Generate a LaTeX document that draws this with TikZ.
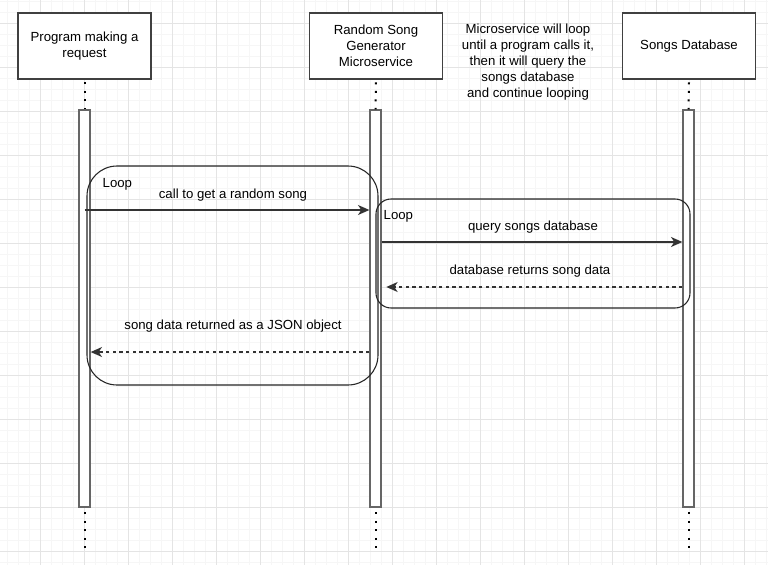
\documentclass[tikz,border=0pt]{standalone}
\usepackage{fontspec}
\setmainfont{Liberation Sans}
\usepackage{tikz}
\usetikzlibrary{arrows.meta,positioning}

\definecolor{minorgrid}{HTML}{F6F6F6}
\definecolor{majorgrid}{HTML}{E4E4E4}

\begin{document}
\begin{tikzpicture}[x=0.75pt,y=-0.75pt,
  every node/.style={font=\fontsize{9.9}{12}\selectfont},
  actor/.style={draw=black!75,line width=0.9pt,fill=white,minimum width=99.75pt,
    minimum height=49.5pt,align=center,inner sep=2pt},
  actbar/.style={draw=black!60,line width=1pt,fill=white,minimum width=8.25pt,
    minimum height=297.75pt,inner sep=0pt},
  lifeline/.style={line width=1.5pt,dash pattern=on 1.5pt off 4.9pt},
  loopbox/.style={draw=black!85,line width=0.8pt,inner sep=0pt},
  msg/.style={draw=black!80,line width=0.9pt,-{Stealth[length=8.5pt,width=7.5pt,inset=2.5pt]}},
  reply/.style={msg,dash pattern=on 2.5pt off 2.5pt}]

  % Fondo con cuadricula
  \useasboundingbox[fill=white] (0,0) rectangle (768,565);
  \foreach \i in {0,...,70}
    \draw[minorgrid,line width=0.6pt] (-4+11*\i,0) -- (-4+11*\i,565);
  \foreach \i in {0,...,51}
    \draw[minorgrid,line width=0.6pt] (0,1+11*\i) -- (768,1+11*\i);
  \foreach \i in {1,...,17}
    \draw[majorgrid,line width=0.6pt] (-4+44*\i,0) -- (-4+44*\i,565);
  \foreach \i in {0,...,12}
    \draw[majorgrid,line width=0.6pt] (0,23+44*\i) -- (768,23+44*\i);

  % Participantes
  \node[actor] (prog) at (84.5,46) {Program making a\\request};
  \node[actor] (gen) at (376,46) {Random Song\\Generator\\Microservice};
  \node[actor] (db) at (689,46) {Songs Database};
  \node[align=center] (note) at (528,62)
    {Microservice will loop\\until a program calls it,\\then it will query the\\songs database\\and continue looping};

  % Barras de activacion
  \node[actbar] (progbar) at (84.5,308.5) {};
  \node[actbar] (genbar) at (375.5,308.5) {};
  \node[actbar] (dbbar) at (688.5,308.5) {};

  % Lineas de vida punteadas
  \draw[lifeline] ([yshift=-2pt]prog.south) -- (progbar.north);
  \draw[lifeline] ([yshift=-2pt]gen.south) -- (genbar.north);
  \draw[lifeline] ([yshift=-2pt]db.south) -- (dbbar.north);
  \coordinate (progend) at ([yshift=-34pt]progbar.south);
  \coordinate (genend) at ([yshift=-34pt]genbar.south);
  \coordinate (dbend) at ([yshift=-34pt]dbbar.south);
  \draw[lifeline] ([yshift=-3.5pt]progbar.south) -- (progend);
  \draw[lifeline] ([yshift=-3.5pt]genbar.south) -- (genend);
  \draw[lifeline] ([yshift=-3.5pt]dbbar.south) -- (dbend);

  % Marcos de los bucles
  \node[loopbox,minimum width=218.25pt,minimum height=164.25pt,
    rounded corners=22.5pt] (outerloop) at (232.5,275.5) {};
  \node[anchor=west] (outerlbl) at (98,184) {Loop};
  \node[loopbox,minimum width=235.5pt,minimum height=81.75pt,
    rounded corners=11.25pt] (innerloop) at (533,253.5) {};
  \node[anchor=west] (innerlbl) at (379,216) {Loop};

  % Mensajes
  \coordinate (m1) at (0,210);
  \coordinate (m2) at (0,242);
  \coordinate (m3) at (0,287);
  \coordinate (m4) at (0,352);

  \node (call) at (233,195) {call to get a random song};
  \draw[msg] (progbar.center |- m1) -- (genbar.west |- m1);

  \node (query) at (533,227) {query songs database};
  \draw[msg] (genbar.east |- m2) -- (dbbar.west |- m2);

  \node (dbret) at (530,271) {database returns song data};
  \draw[reply,shorten >=3.5pt] (dbbar.west |- m3) -- (genbar.east |- m3);

  \node (json) at (233,326) {song data returned as a JSON object};
  \draw[reply] (genbar.west |- m4) -- (progbar.east |- m4);

\end{tikzpicture}
\end{document}
